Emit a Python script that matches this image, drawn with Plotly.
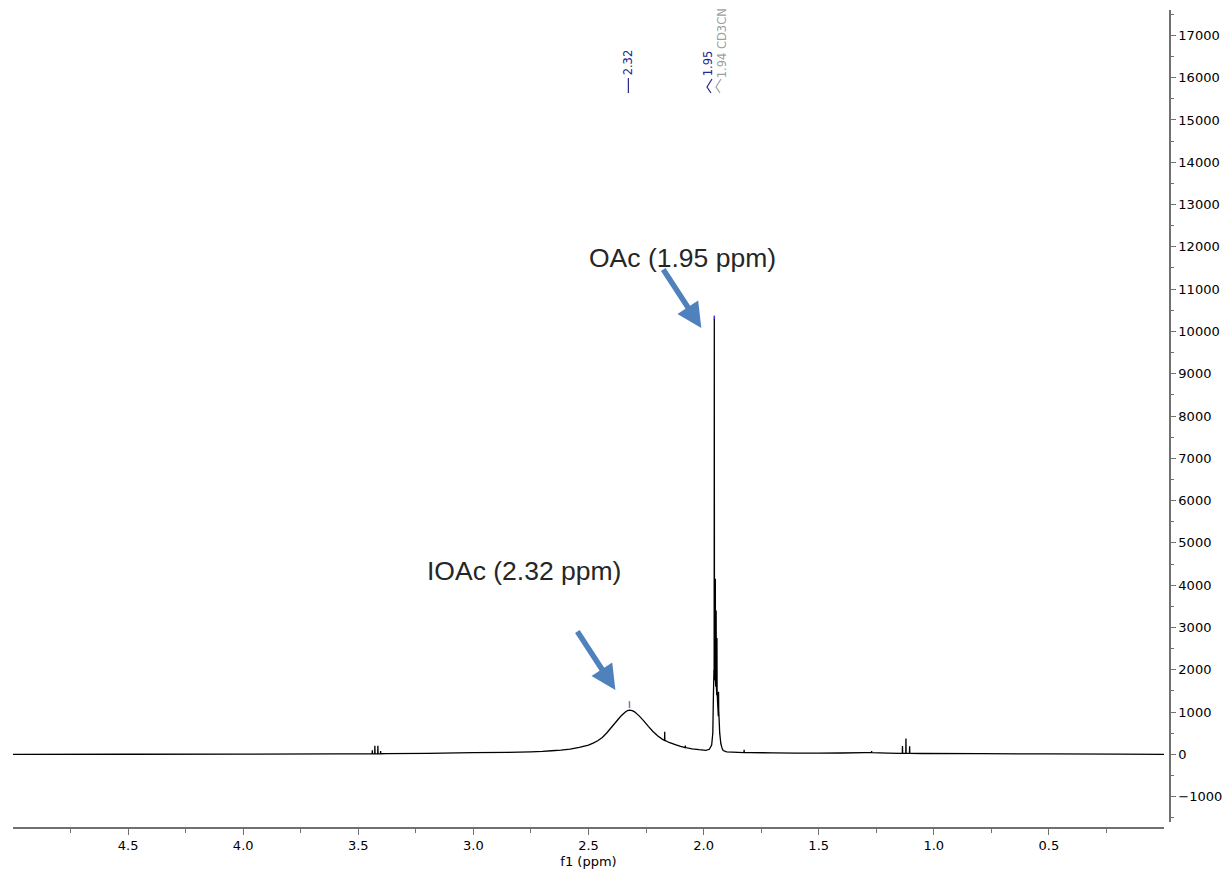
import plotly.graph_objects as go

# ---------------- data ----------------
# smooth envelope of the 1H spectrum: chemical shift (ppm) and intensity
env_ppm = [5.00, 4.50, 4.00, 3.60, 3.46, 3.38, 3.20, 3.00, 2.85, 2.75, 2.70, 2.66,
           2.62, 2.58, 2.54, 2.50, 2.48, 2.46, 2.44, 2.42, 2.40, 2.38, 2.36, 2.34,
           2.33, 2.322, 2.31, 2.30, 2.28, 2.26, 2.24, 2.22, 2.20, 2.18, 2.15, 2.12, 2.10,
           2.050, 2.020, 1.990, 1.975, 1.965, 1.960, 1.957, 1.955,
           1.951, 1.947, 1.943, 1.939, 1.936, 1.930, 1.925, 1.920, 1.915, 1.900,
           1.850, 1.800, 1.700, 1.600, 1.500, 1.400, 1.300, 1.200, 1.150, 1.050,
           0.800, 0.500, 0.200, 0.000]
env_int = [0, 2, 5, 10, 12, 15, 25, 40, 48, 60, 70, 85,
           100, 125, 165, 220, 265, 320, 400, 510, 640, 770, 900, 1000,
           1035, 1047, 1035, 1005, 910, 790, 660, 540, 440, 360, 280, 225, 190,
           130, 110, 95, 120, 220, 500, 1500, 2000,
           1800, 1600, 1400, 1200, 900, 500, 250, 150, 90, 60,
           45, 40, 35, 30, 30, 32, 40, 30, 25, 20,
           15, 10, 5, 0]

# sharp lines: position (ppm), base level, apex intensity
line_ppm  = [3.439, 3.428, 3.415, 3.403, 2.169, 2.079, 1.9535, 1.9490, 1.9455,
             1.9420, 1.9350, 1.824, 1.270, 1.136, 1.121, 1.105]
line_base = [12, 12, 12, 14, 328, 160, 1900, 1750, 1650,
             1500, 1050, 40, 40, 25, 25, 25]
line_top  = [95, 200, 200, 75, 534, 205, 10314, 4150, 3400,
             2750, 1480, 110, 75, 195, 375, 190]

# peak picking labels
pk_label = ["2.32", "1.95", "1.94 CD3CN"]
pk_ppm = [2.322, 1.9535, 1.940]
pk_height = [1047, 10314, 4150]

# ---------------- build trace ----------------
pts = list(zip(env_ppm, env_int))
d = 0.0007
for p, b, t in zip(line_ppm, line_base, line_top):
    pts += [(p + d, b), (p, t), (p - d, b)]
pts.sort(key=lambda q: -q[0])
xs = [q[0] for q in pts]
ys = [q[1] for q in pts]

fig = go.Figure()
fig.add_trace(go.Scatter(x=xs, y=ys, mode="lines",
                         line=dict(color="black", width=1.3, simplify=False),
                         hoverinfo="skip", showlegend=False))

# ---------------- geometry helpers (pixel -> paper) ----------------
TOP, BOT = 10, 828
LEFT, RIGHT = 13, 1170
XDOM = (1164 - LEFT) / (RIGHT - LEFT)
def py(ypx):
    return (BOT - ypx) / (BOT - TOP)
def ppm_of(xpx):
    return 2 + (703.3 - xpx) / 230.4
def px(xpx):
    return (xpx - LEFT) / (RIGHT - LEFT)

navy = "#26268f"
grey = "#a0a0a0"
shapes = []
# peak-top markers
shapes.append(dict(type="line", xref="x", yref="y", x0=pk_ppm[0], x1=pk_ppm[0],
                   y0=pk_height[0] + 50, y1=pk_height[0] + 210,
                   line=dict(color="#7777c0", width=1.5)))
shapes.append(dict(type="line", xref="x", yref="y", x0=pk_ppm[1], x1=pk_ppm[1],
                   y0=pk_height[1] - 20, y1=pk_height[1] + 60,
                   line=dict(color="#3a3ad0", width=1.5)))
# label connectors
shapes.append(dict(type="line", xref="x", yref="paper", x0=ppm_of(628), x1=ppm_of(628),
                   y0=py(78), y1=py(93), line=dict(color=navy, width=1.2)))
shapes.append(dict(type="path", xref="paper", yref="paper",
                   path="M {:.5f},{:.5f} L {:.5f},{:.5f} L {:.5f},{:.5f}".format(
                       px(712), py(79), px(707), py(87), px(711), py(93)),
                   line=dict(color=navy, width=1.2)))
shapes.append(dict(type="path", xref="paper", yref="paper",
                   path="M {:.5f},{:.5f} L {:.5f},{:.5f} L {:.5f},{:.5f}".format(
                       px(721), py(79), px(716), py(87), px(720), py(93)),
                   line=dict(color=grey, width=1.2)))

annotations = []
lab_font = dict(family="DejaVu Sans", size=11.5)
annotations.append(dict(x=ppm_of(628), y=py(62), xref="x", yref="paper", text=pk_label[0],
                        textangle=-90, showarrow=False, font=dict(color=navy, **lab_font),
                        xanchor="center", yanchor="middle"))
annotations.append(dict(x=ppm_of(708), y=py(63), xref="x", yref="paper", text=pk_label[1],
                        textangle=-90, showarrow=False, font=dict(color=navy, **lab_font),
                        xanchor="center", yanchor="middle"))
annotations.append(dict(x=ppm_of(722), y=py(43), xref="x", yref="paper", text=pk_label[2],
                        textangle=-90, showarrow=False, font=dict(color=grey, **lab_font),
                        xanchor="center", yanchor="middle"))

big = dict(family="Liberation Sans, Arial", size=26.5, color="#262626")
annotations.append(dict(x=ppm_of(682), y=py(241), xref="x", yref="paper",
                        text="OAc (1.95 ppm)", showarrow=False, font=big))
annotations.append(dict(x=ppm_of(524), y=py(588), xref="x", yref="paper",
                        text="IOAc (2.32 ppm)", showarrow=False, font=big))
arrow_col = "#4f81bd"
for tipx, tipy in [(701, 328), (615, 690)]:
    annotations.append(dict(x=ppm_of(tipx), y=py(tipy), xref="x", yref="paper",
                            ax=-39, ay=-60, text="", showarrow=True,
                            arrowhead=2, arrowsize=0.9, arrowwidth=5.5,
                            arrowcolor=arrow_col, standoff=0, startstandoff=0))

tick_font = dict(family="DejaVu Sans", size=13, color="#000000")
axis_col = "#707070"

fig.update_layout(
    width=1223, height=873,
    margin=dict(l=LEFT, r=1223 - RIGHT, t=TOP, b=873 - BOT, pad=0, autoexpand=False),
    paper_bgcolor="white", plot_bgcolor="white",
    showlegend=False,
    shapes=shapes, annotations=annotations,
    xaxis=dict(range=[5.0, 0.0], domain=[0, XDOM], anchor="free", position=0,
               automargin=False,
               tickvals=[4.5, 4.0, 3.5, 3.0, 2.5, 2.0, 1.5, 1.0, 0.5],
               ticktext=["4.5", "4.0", "3.5", "3.0", "2.5", "2.0", "1.5", "1.0", "0.5"],
               ticks="outside", ticklen=6, tickwidth=1, tickcolor=axis_col,
               minor=dict(tickvals=[4.75, 4.25, 3.75, 3.25, 2.75, 2.25, 1.75, 1.25, 0.75, 0.25],
                          ticks="outside", ticklen=4, tickcolor=axis_col),
               showline=True, linecolor=axis_col, linewidth=1.5,
               showgrid=False, zeroline=False, tickfont=tick_font,
               title=dict(text="f1 (ppm)", font=tick_font, standoff=4)),
    yaxis=dict(range=[-1600, 17600], domain=[(BOT - 822) / (BOT - TOP), 1],
               side="right", anchor="free", position=1, automargin=False,
               tickmode="linear", tick0=0, dtick=1000,
               ticks="outside", ticklen=5, tickwidth=1, tickcolor=axis_col,
               minor=dict(dtick=500, tick0=0, ticks="outside", ticklen=3, tickcolor=axis_col),
               showline=True, linecolor=axis_col, linewidth=1.5,
               showgrid=False, zeroline=False, tickfont=tick_font,
               separatethousands=False, tickformat="d"),
)

fig.write_html("out.html")
